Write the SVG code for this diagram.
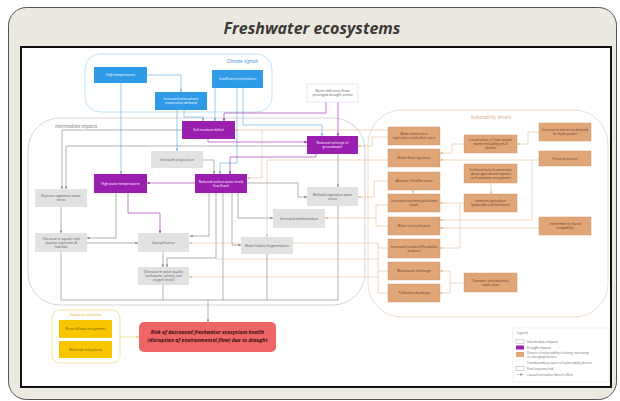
<svg xmlns="http://www.w3.org/2000/svg" width="620" height="401" viewBox="0 0 620 401">
  <defs>
    <style>
      .t { font-family: "Open Sans", "Liberation Sans", sans-serif; text-anchor: middle; }
      .bx { font-size: 3.3px; }
      .blue { fill: #2f9ae6; }
      .purple { fill: #9a1fae; }
      .grey { fill: #e2e2e2; }
      .tan { fill: #e1a677; stroke: #c88d60; stroke-width: 0.4; }
      .wt { fill: #ffffff; }
      .dk { fill: #5a5a5a; }
      .br { fill: #5e4030; }
      .lg { fill: none; stroke: #808080; stroke-width: 0.6; marker-end: url(#ag); }
      .lb { fill: none; stroke: #5aa9df; stroke-width: 0.6; marker-end: url(#ab); }
      .lp { fill: none; stroke: #9a1fae; stroke-width: 0.6; marker-end: url(#ap); }
      .lt { fill: none; stroke: #e3b38c; stroke-width: 0.55; marker-end: url(#at); }
      .nl { marker-end: none; }
      .leg { font-family: "Open Sans", "Liberation Sans", sans-serif; font-size: 3.1px; fill: #6a6a6a; }
    </style>
    <marker id="ag" viewBox="0 0 6 6" refX="6" refY="3" markerWidth="2.6" markerHeight="2.6" markerUnits="userSpaceOnUse" orient="auto"><path d="M0,0 L6,3 L0,6 z" fill="#808080"/></marker>
    <marker id="ab" viewBox="0 0 6 6" refX="6" refY="3" markerWidth="2.6" markerHeight="2.6" markerUnits="userSpaceOnUse" orient="auto"><path d="M0,0 L6,3 L0,6 z" fill="#5aa9df"/></marker>
    <marker id="ap" viewBox="0 0 6 6" refX="6" refY="3" markerWidth="2.6" markerHeight="2.6" markerUnits="userSpaceOnUse" orient="auto"><path d="M0,0 L6,3 L0,6 z" fill="#9a1fae"/></marker>
    <marker id="at" viewBox="0 0 6 6" refX="6" refY="3" markerWidth="2.6" markerHeight="2.6" markerUnits="userSpaceOnUse" orient="auto"><path d="M0,0 L6,3 L0,6 z" fill="#e3b38c"/></marker>
    <marker id="ay" viewBox="0 0 6 6" refX="6" refY="3" markerWidth="2.6" markerHeight="2.6" markerUnits="userSpaceOnUse" orient="auto"><path d="M0,0 L6,3 L0,6 z" fill="#efcf6a"/></marker>
  </defs>

  <!-- card and panel -->
  <rect x="8.5" y="7.5" width="608" height="392" rx="18" fill="#ece9e1" stroke="#555" stroke-width="1"/>
  <text x="312" y="34" font-family="'Open Sans', 'Liberation Sans', sans-serif" font-size="16" font-weight="bold" font-style="italic" fill="#3d3a38" text-anchor="middle">Freshwater ecosystems</text>
  <rect x="21" y="47" width="590" height="340" fill="#ffffff" stroke="#111" stroke-width="2"/>

  <!-- group frames -->
  <g id="frames" fill="none">
    <rect x="85" y="54" width="187" height="58" rx="15" stroke="#a8d4f0" stroke-width="0.7"/>
    <rect x="28" y="118" width="337" height="187" rx="32" stroke="#b8b8b8" stroke-width="0.6"/>
    <rect x="368" y="110" width="240" height="207" rx="34" stroke="#e8cdb0" stroke-width="0.7"/>
    <rect x="52" y="310" width="68" height="53" rx="8" stroke="#f3d97a" stroke-width="0.7"/>
  </g>
  <g id="frame-labels" font-family="'Open Sans', 'Liberation Sans', sans-serif" font-style="italic">
    <text x="242.5" y="62.5" font-size="4.8" fill="#3b8fd5" text-anchor="middle">Climate signals</text>
    <text x="55" y="127.5" font-size="4.5" fill="#7a7a7a">Intermediate impacts</text>
    <text x="491" y="118.5" font-size="4.6" fill="#d6a67c" text-anchor="middle">Vulnerability drivers</text>
    <text x="85.5" y="316" font-size="4" fill="#e2ad10" text-anchor="middle">Exposed elements</text>
  </g>

  <!-- connectors -->
  <g id="connectors">
    <!-- climate signals -->
    <path class="lb" d="M147,75 H181 V92"/>
    <path class="lb" d="M121,83 V174"/>
    <path class="lb" d="M177,110 V151"/>
    <path class="lb" d="M184,110 V117 H203 V121"/>
    <path class="lb" d="M215,88 V121"/>
    <path class="lb" d="M237,88 V163 H220 V174"/>
    <path class="lb" d="M243,88 V125 H322 V136"/>
    <!-- drought impacts -->
    <path class="lp" d="M326,102 V113 H224 V121"/>
    <path class="lp" d="M338,102 V136" stroke="#c690d6"/>
    <path class="lp" d="M208,139 V142 H307"/>
    <path class="lp" d="M316,154 V157 H230 V174"/>
    <path class="lp" d="M195,183 H147"/>
    <path class="lp" d="M128,193 V213 H160 V233"/>
    <!-- intermediate impacts -->
    <path class="lg" d="M182,130 H62 V189"/>
    <path class="lg" d="M307,146 H66 V189"/>
    <path class="lg" d="M61,207 V233"/>
    <path class="lg nl" d="M61,252 V300 H338"/>
    <path class="lg" d="M208,300 V322"/>
    <path class="lg" d="M87,243 H138"/>
    <path class="lg" d="M116,193 V238 H87"/>
    <path class="lg" d="M203,160 H214 V174"/>
    <path class="lg" d="M209,193 V236 H190"/>
    <path class="lg" d="M216,193 V258 H167 V267"/>
    <path class="lg" d="M163,252 V267"/>
    <path class="lg nl" d="M163,285 V300"/>
    <path class="lg nl" d="M223,193 V300"/>
    <path class="lg" d="M232,193 V245 H241"/>
    <path class="lg" d="M238,193 V218 H273"/>
    <path class="lg" d="M247,183 H298 V197 H307"/>
    <path class="lg nl" d="M267,254 V300"/>
    <path class="lg" d="M338,154 V187"/>
    <path class="lg nl" d="M338,206 V300"/>
    <!-- vulnerability drivers -->
    <path class="lt" d="M388,130 H235"/>
    <path class="lt" d="M262,130 V178 H247"/>
    <path class="lt" d="M388,137 H372 V146 H358"/>
    <path class="lt" d="M388,160 H267 V237"/>
    <path class="lt" d="M388,181 H374 V197 H358"/>
    <path class="lt nl" d="M388,205 H376 V226 H388"/>
    <path class="lt" d="M376,218 H325"/>
    <path class="lt nl" d="M388,248 H378 V293 H388 M378,271 H388 M378,243 V248"/>
    <path class="lt" d="M378,243 H189"/>
    <path class="lt nl" d="M378,259 H216"/>
    <path class="lt" d="M378,277 H189"/>
    <path class="lt" d="M464,203 H440"/>
    <path class="lt" d="M460,203 V248 H440"/>
    <path class="lt" d="M491,183 V194"/>
    <path class="lt" d="M464,144 H452 V153 H440"/>
    <path class="lt" d="M539,132 H528 V144 H517"/>
    <path class="lt" d="M539,160 H440"/>
    <path class="lt" d="M532,160 V220 H440"/>
    <path class="lt" d="M539,228 H440"/>
    <path class="lt nl" d="M464,283 H450 M450,271 V293"/>
    <path class="lt" d="M450,271 H440"/>
    <path class="lt" d="M450,293 H440"/>
    <path class="lt" d="M413,194 V190"/>
    <!-- exposure -->
    <path d="M120,337 H139" fill="none" stroke="#efcf6a" stroke-width="0.6" marker-end="url(#ay)"/>
  </g>

  <!-- climate signals -->
  <g id="high-temperatures"><rect class="blue" x="94" y="67" width="53" height="16"/><text class="t bx wt" x="120.5" y="76.2">High temperatures</text></g>
  <g id="insufficient-precipitation"><rect class="blue" x="212" y="70" width="51" height="18"/><text class="t bx wt" x="237.5" y="80.2">Insufficient precipitation</text></g>
  <g id="atmospheric-demand"><rect class="blue" x="155" y="92" width="52" height="18"/><text class="t bx wt" x="181" y="100.2">Increased atmospheric<tspan x="181" dy="4">evaporative demand</tspan></text></g>

  <!-- drought impacts -->
  <g id="water-deficiency"><rect x="307" y="84" width="51" height="18" fill="#fff" stroke="#e2c8ea" stroke-width="0.5"/><text class="t bx dk" x="332.5" y="92.2">Water deficiency flows<tspan x="332.5" dy="4">prolonged drought events</tspan></text></g>
  <g id="soil-moisture"><rect class="purple" x="182" y="121" width="53" height="18"/><text class="t bx wt" x="208.5" y="131.2">Soil moisture deficit</text></g>
  <g id="groundwater-recharge"><rect class="purple" x="307" y="136" width="51" height="18"/><text class="t bx wt" x="332.5" y="144.2">Reduced recharge of<tspan x="332.5" dy="4">groundwater</tspan></text></g>
  <g id="high-water-temperatures"><rect class="purple" x="94" y="174" width="53" height="19"/><text class="t bx wt" x="120.5" y="184.7">High water temperatures</text></g>
  <g id="low-flows"><rect class="purple" x="195" y="174" width="52" height="19"/><text class="t bx wt" x="221" y="182.7">Reduced surface water levels<tspan x="221" dy="4">(low flows)</tspan></text></g>

  <!-- intermediate impacts -->
  <g id="evaporation"><rect class="grey" x="151" y="151" width="52" height="17"/><text class="t bx dk" x="177" y="160.7">Increased evaporation</text></g>
  <g id="riparian-stress"><rect class="grey" x="35" y="189" width="52" height="18"/><text class="t bx dk" x="61" y="197.2">Riparian vegetation water<tspan x="61" dy="4">stress</tspan></text></g>
  <g id="aquatic-organisms"><rect class="grey" x="35" y="233" width="52" height="19"/><text class="t bx dk" x="61" y="239.6">Decrease in aquatic and<tspan x="61" dy="4">riparian organisms &amp;</tspan><tspan x="61" dy="4">habitats</tspan></text></g>
  <g id="eutrophication"><rect class="grey" x="138" y="233" width="51" height="19"/><text class="t bx dk" x="163.5" y="243.7">Eutrophication</text></g>
  <g id="water-quality"><rect class="grey" x="138" y="267" width="51" height="18"/><text class="t bx dk" x="163.5" y="272.8">Decrease in water quality<tspan x="163.5" dy="4">(pollutants, salinity, low</tspan><tspan x="163.5" dy="4">oxygen levels)</tspan></text></g>
  <g id="habitat-fragmentation"><rect class="grey" x="241" y="237" width="52" height="17"/><text class="t bx dk" x="267" y="246.7">Water habitat fragmentation</text></g>
  <g id="sedimentation"><rect class="grey" x="273" y="209" width="52" height="19"/><text class="t bx dk" x="299" y="219.7">Increased sedimentation</text></g>
  <g id="wetland-stress"><rect class="grey" x="307" y="187" width="51" height="19"/><text class="t bx dk" x="332.5" y="195.7">Wetland vegetation water<tspan x="332.5" dy="4">stress</tspan></text></g>

  <!-- vulnerability drivers -->
  <g id="water-abstraction"><rect class="tan" x="388" y="127" width="52" height="18"/><text class="t bx br" x="414" y="135.2">Water abstraction<tspan x="414" dy="4">(agriculture and other uses)</tspan></text></g>
  <g id="flow-regulation"><rect class="tan" x="388" y="149" width="52" height="18"/><text class="t bx br" x="414" y="159.2">Water flow regulation</text></g>
  <g id="buffer-zones"><rect class="tan" x="388" y="172" width="52" height="18"/><text class="t bx br" x="414" y="182.2">Absence of buffer zones</text></g>
  <g id="nutrient-loads"><rect class="tan" x="388" y="194" width="52" height="18"/><text class="t bx br" x="414" y="202.2">Increased nutrients/pollutants<tspan x="414" dy="4">loads</tspan></text></g>
  <g id="channelisation"><rect class="tan" x="388" y="217" width="52" height="18"/><text class="t bx br" x="414" y="227.2">Water channelisation</text></g>
  <g id="floodplain-use"><rect class="tan" x="388" y="239" width="52" height="19"/><text class="t bx br" x="414" y="247.7">Increased riverbank/floodplain<tspan x="414" dy="4">land use</tspan></text></g>
  <g id="wastewater"><rect class="tan" x="388" y="262" width="52" height="18"/><text class="t bx br" x="414" y="272.2">Wastewater discharge</text></g>
  <g id="pollutants"><rect class="tan" x="388" y="284" width="52" height="18"/><text class="t bx br" x="414" y="294.2">Pollutants discharge</text></g>
  <g id="hydropower"><rect class="tan" x="464" y="135" width="53" height="18"/><text class="t bx br" x="490.5" y="141">Construction of hydropower<tspan x="490.5" dy="4">plants (including small</tspan><tspan x="490.5" dy="4">plants)</tspan></text></g>
  <g id="awareness"><rect class="tan" x="464" y="164" width="53" height="19"/><text class="t bx br" x="490.5" y="170.6">Technical lack of awareness<tspan x="490.5" dy="4">about agricultural impacts</tspan><tspan x="490.5" dy="4">on freshwater ecosystems</tspan></text></g>
  <g id="intensive-agriculture"><rect class="tan" x="464" y="194" width="53" height="18"/><text class="t bx br" x="490.5" y="202.2">Intensive agriculture<tspan x="490.5" dy="4">(pesticides and fertilisers)</tspan></text></g>
  <g id="water-uses"><rect class="tan" x="464" y="273" width="53" height="19"/><text class="t bx br" x="490.5" y="281.7">Domestic and industrial<tspan x="490.5" dy="4">water uses</tspan></text></g>
  <g id="electricity-demand"><rect class="tan" x="539" y="123" width="52" height="18"/><text class="t bx br" x="565" y="131.2">Increase in electricity demand<tspan x="565" dy="4">for hydropower</tspan></text></g>
  <g id="flood-protection"><rect class="tan" x="539" y="151" width="52" height="15"/><text class="t bx br" x="565" y="159.7">Flood protection</text></g>
  <g id="navigability"><rect class="tan" x="539" y="217" width="52" height="18"/><text class="t bx br" x="565" y="225.2">Investment in inland<tspan x="565" dy="4">navigability</tspan></text></g>

  <!-- exposed elements -->
  <g id="rivers-lakes"><rect x="59" y="320" width="53" height="18" fill="#f7c600"/><text class="t bx" fill="#6b5200" x="85.5" y="330.2">Rivers &amp; lakes ecosystems</text></g>
  <g id="wetlands"><rect x="59" y="341" width="53" height="17" fill="#f7c600"/><text class="t bx" fill="#6b5200" x="85.5" y="350.7">Wetlands ecosystems</text></g>

  <!-- risk -->
  <g id="risk">
    <rect x="139" y="322" width="137" height="30" rx="5" fill="#ef6464"/>
    <text class="t" x="207.5" y="334" font-size="5.1" font-weight="bold" font-style="italic" fill="#3a1414">Risk of decreased freshwater ecosystem health<tspan x="207.5" dy="8">(disruption of environmental flow) due to drought</tspan></text>
  </g>

  <!-- legend -->
  <g id="legend">
    <rect x="513" y="328" width="96" height="54" fill="#fff" stroke="#d6d6d6" stroke-width="0.4"/>
    <text class="leg" x="517" y="334">Legend</text>
    <rect x="516" y="339.5" width="8" height="4" fill="#fff" stroke="#999" stroke-width="0.4"/>
    <text class="leg" x="527" y="342.8">Intermediate impacts</text>
    <rect x="516" y="345.5" width="8" height="4" fill="#9a1fae"/>
    <text class="leg" x="527" y="348.8">Drought impacts</text>
    <rect x="516" y="352" width="8" height="5" fill="#e1a677"/>
    <text class="leg" x="527" y="354.3">Drivers of vulnerability (existing, increasing<tspan x="527" dy="3.8">or emerging) factors</tspan></text>
    <rect x="516" y="360.5" width="8" height="4" fill="#fff" stroke="#eeeeee" stroke-width="0.4"/>
    <text class="leg" x="527" y="363.8">Transboundary aspect of vulnerability drivers</text>
    <rect x="516" y="366.5" width="8" height="4" fill="#fff" stroke="#888" stroke-width="0.4"/>
    <text class="leg" x="527" y="369.8">Final outcome/risk</text>
    <path d="M517,374.5 H523" stroke="#888" stroke-width="0.4" marker-end="url(#ag)"/>
    <text class="leg" x="527" y="375.8">Causal/correlative (direct) effect</text>
  </g>
</svg>
